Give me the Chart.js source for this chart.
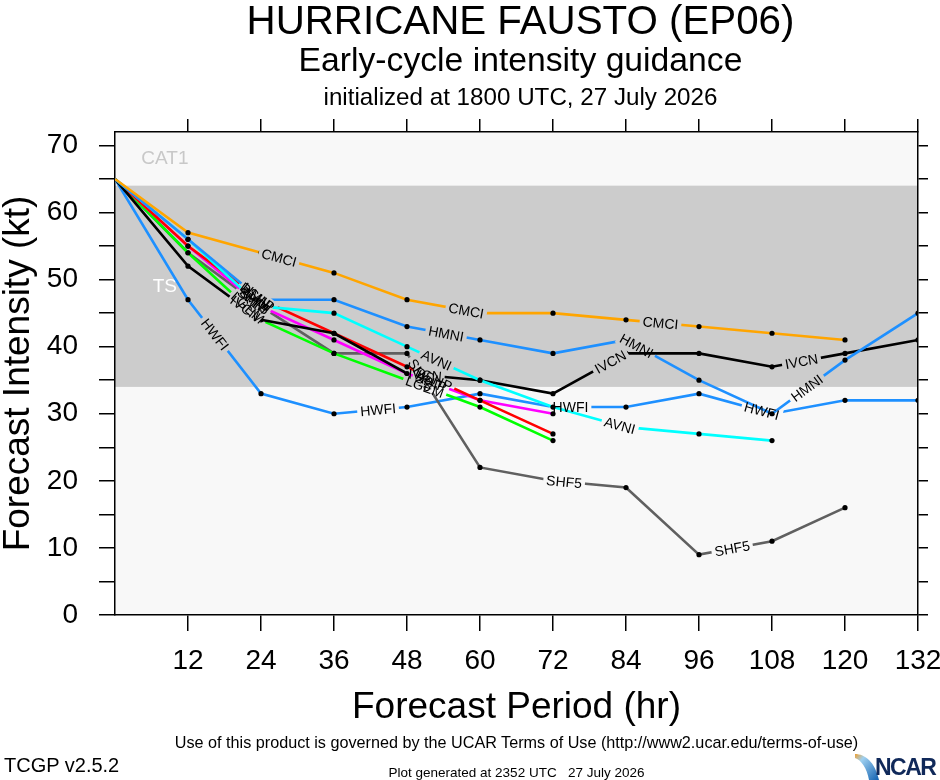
<!DOCTYPE html>
<html>
<head>
<meta charset="utf-8">
<title>Hurricane Fausto (EP06) - early-cycle intensity guidance</title>
<script src="https://cdn.jsdelivr.net/npm/chart.js@4.4.1/dist/chart.umd.min.js"></script>
<style>
    html, body { margin: 0; padding: 0; background: #fff; }
    #wrap { position: relative; width: 940px; height: 780px; overflow: hidden;
            font-family: "Liberation Sans", Arial, sans-serif; color: #000; }
    #grafico { position: absolute; left: 0; top: 0; }
    .txt { position: absolute; line-height: 1; white-space: pre; }
    .ctr { left: 115px; width: 803px; text-align: center; }
    .head { left: 119px; width: 803px; text-align: center; }
    #ncar { position: absolute; left: 855px; top: 752px; width: 85px; height: 28px; }
    #ncar svg { position: absolute; left: 0; top: 0; }
    #ncar span { position: absolute; left: 20px; top: 4px; font-size: 23px; font-weight: bold;
                 color: #10295a; letter-spacing: -1.5px; line-height: 1; }
</style>
</head>
<body>
<div id="wrap">
    <canvas id="grafico" width="940" height="780"></canvas>
    <div class="txt head" style="top:1px;font-size:40.3px">HURRICANE FAUSTO (EP06)</div>
    <div class="txt head" style="top:43px;font-size:33.7px">Early-cycle intensity guidance</div>
    <div class="txt head" style="top:85px;font-size:24.2px">initialized at 1800 UTC, 27 July 2026</div>
    <div class="txt ctr" style="top:734px;font-size:16.2px">Use of this product is governed by the UCAR Terms of Use (http://www2.ucar.edu/terms-of-use)</div>
    <div class="txt" style="left:4px;top:755px;font-size:20px">TCGP v2.5.2</div>
    <div class="txt ctr" style="top:766px;font-size:13.5px">Plot generated at 2352 UTC   27 July 2026</div>
    <div id="ncar">
        <svg width="30" height="28" viewBox="0 0 30 28">
            <defs>
                <linearGradient id="sw" x1="0" y1="0" x2="1" y2="1">
                    <stop offset="0" stop-color="#f0a030"/>
                    <stop offset="0.25" stop-color="#9fd0f0"/>
                    <stop offset="1" stop-color="#1060b0"/>
                </linearGradient>
            </defs>
            <path d="M0 2 C10 2 20 10 24 28 L14 28 C12 16 6 8 0 6 Z" fill="url(#sw)"/>
        </svg>
        <span>NCAR</span>
    </div>
</div>
<script>
// forecast hours and model intensities (kt)
const hours = [0, 12, 24, 36, 48, 60, 72, 84, 96, 108, 120, 132];

const cmci = [65, 57, 54, 51, 47, 45, 45, 44, 43, 42, 41];
const hmni = [65, 56, 47, 47, 43, 41, 39, 41, 35, 30, 38, 45];
const hwfi = [65, 47, 33, 30, 31, 33, 31, 31, 33, 30, 32, 32];
const avni = [65, 56, 46, 45, 40, 35, 31, 28, 27, 26];
const ivcn = [65, 52, 44, 42, 36, 35, 33, 39, 39, 37, 39, 41];
const shf5 = [65, 54, 46, 39, 39, 22, 20, 19, 9, 11, 16];
const dshp = [65, 55, 47, 42, 37, 32, 27];
const lgem = [65, 54, 44, 39, 35, 31, 26];
const ship = [65, 55, 46, 41, 36, 32, 30];

// tick marks
const xTicks = [12, 24, 36, 48, 60, 72, 84, 96, 108, 120, 132];
const yTicks = [0, 5, 10, 15, 20, 25, 30, 35, 40, 45, 50, 55, 60, 65, 70];

// intensity categories (kt)
const tsBottom = 34;
const tsTop = 64;

const FONT = '"Liberation Sans", Arial, sans-serif';
const LABEL_FONT = '14px ' + FONT;
const LABEL_FIRST = 185;   // arc length (px) to the first line label
const LABEL_STEP = 195;    // arc length (px) between line labels

Chart.defaults.font.family = FONT;
Chart.defaults.color = '#000';

const models = [
    { name: 'CMCI', values: cmci, color: '#ffa500' },
    { name: 'HMNI', values: hmni, color: '#1e90ff' },
    { name: 'AVNI', values: avni, color: '#00ffff' },
    { name: 'IVCN', values: ivcn, color: '#000000' },
    { name: 'DSHP', values: dshp, color: '#ff0000' },
    { name: 'SHIP', values: ship, color: '#ff00ff' },
    { name: 'LGEM', values: lgem, color: '#00ff00' },
    { name: 'SHF5', values: shf5, color: '#606060' },
    { name: 'HWFI', values: hwfi, color: '#1e90ff' },
];

// Fundo com as faixas de categoria
const bandas = {
    id: 'bandas',
    beforeDraw(chart) {
        const { ctx, chartArea: a, scales: { x, y } } = chart;
        const yTop = y.getPixelForValue(tsTop);
        const yBot = y.getPixelForValue(tsBottom);
        ctx.save();
        ctx.fillStyle = '#f8f8f8';
        ctx.fillRect(a.left, a.top, a.width, a.height);
        ctx.fillStyle = '#cccccc';
        ctx.fillRect(a.left, yTop, a.width, yBot - yTop);
        ctx.font = '19px ' + FONT;
        ctx.textAlign = 'center';
        ctx.textBaseline = 'middle';
        ctx.fillStyle = '#c8c8c8';
        ctx.fillText('CAT1', x.getPixelForValue(8.2), y.getPixelForValue((tsTop + y.max) / 2));
        ctx.fillStyle = '#ffffff';
        ctx.fillText('TS', x.getPixelForValue(8.2), y.getPixelForValue((tsTop + tsBottom) / 2));
        ctx.restore();
    }
};

// posições dos rótulos ao longo de cada linha
function labelSpots(points) {
    const spots = [];
    let next = LABEL_FIRST, run = 0;
    for (let i = 1; i < points.length; i++) {
        const p = points[i - 1], q = points[i];
        const dx = q.x - p.x, dy = q.y - p.y;
        const len = Math.hypot(dx, dy);
        while (run + len >= next) {
            const t = (next - run) / len;
            spots.push({ x: p.x + dx * t, y: p.y + dy * t, ang: Math.atan2(dy, dx) });
            next += LABEL_STEP;
        }
        run += len;
    }
    return spots;
}

function gapPath(ctx, s, w, h) {
    const c = Math.cos(s.ang), sn = Math.sin(s.ang);
    [[-w / 2, -h / 2], [w / 2, -h / 2], [w / 2, h / 2], [-w / 2, h / 2]].forEach(([u, v], k) => {
        const px = s.x + u * c - v * sn, py = s.y + u * sn + v * c;
        if (k) ctx.lineTo(px, py); else ctx.moveTo(px, py);
    });
    ctx.closePath();
}

const spotsByDataset = new Map();

// Rótulos dos modelos sobre as linhas (a linha é interrompida sob o texto)
const rotulos = {
    id: 'rotulos',
    beforeDatasetDraw(chart, args) {
        const ctx = chart.ctx;
        const name = chart.data.datasets[args.index].label;
        const spots = labelSpots(args.meta.data);
        spotsByDataset.set(args.index, spots);
        ctx.save();
        ctx.font = LABEL_FONT;
        const w = ctx.measureText(name).width + 6;
        ctx.beginPath();
        ctx.rect(0, 0, chart.width, chart.height);
        spots.forEach(s => gapPath(ctx, s, w, 15));
        ctx.clip('evenodd');
    },
    afterDatasetDraw(chart) {
        chart.ctx.restore();
    },
    afterDatasetsDraw(chart) {
        const ctx = chart.ctx;
        ctx.save();
        ctx.font = LABEL_FONT;
        ctx.fillStyle = '#000';
        ctx.textAlign = 'center';
        ctx.textBaseline = 'middle';
        spotsByDataset.forEach((spots, idx) => {
            const name = chart.data.datasets[idx].label;
            spots.forEach(s => {
                ctx.save();
                ctx.translate(s.x, s.y);
                ctx.rotate(s.ang);
                ctx.fillText(name, 0, 1);
                ctx.restore();
            });
        });
        ctx.restore();
    }
};

const tickGrid = len => ({
    drawOnChartArea: false, drawTicks: true, tickLength: len, color: '#000', lineWidth: 1.5
});
const frame = { display: true, color: '#000', width: 1.5 };

// tamanho fixo de cada eixo, sem folga extra para os rótulos
function fixSize(prop, size) {
    return s => {
        s[prop] = size;
        s.paddingLeft = s.paddingRight = s.paddingTop = s.paddingBottom = 0;
    };
}
const useTicks = list => s => { s.ticks = list.map(v => ({ value: v })); };

new Chart(document.getElementById('grafico'), {
    type: 'line',
    data: {
        datasets: models.map(m => ({
            label: m.name,
            data: m.values.map((v, i) => ({ x: hours[i], y: v })),
            borderColor: m.color,
            borderWidth: 2.6,
            pointRadius: c => c.dataIndex === 0 ? 0 : 2.6,
            pointHoverRadius: 0,
            pointBackgroundColor: '#000',
            pointBorderWidth: 0,
            tension: 0,
            fill: false,
        })),
    },
    options: {
        responsive: false,
        animation: false,
        events: [],
        layout: { padding: { top: 112, left: 0, right: 0, bottom: 0 } },
        scales: {
            x: {
                type: 'linear', position: 'bottom', min: 0, max: 132,
                afterBuildTicks: useTicks(xTicks),
                afterFit: fixSize('height', 165),
                ticks: { autoSkip: false, maxRotation: 0, padding: 13, font: { size: 28 } },
                grid: tickGrid(16),
                border: frame,
                title: { display: true, text: 'Forecast Period (hr)', font: { size: 37 }, padding: { top: 0, bottom: 50 } },
            },
            x2: {
                type: 'linear', axis: 'x', position: 'top', min: 0, max: 132,
                afterBuildTicks: useTicks(xTicks),
                afterFit: fixSize('height', 20),
                ticks: { autoSkip: false, callback: () => '' },
                grid: tickGrid(13),
                border: frame,
            },
            y: {
                type: 'linear', position: 'left', min: 0, max: 72,
                afterBuildTicks: useTicks(yTicks),
                afterFit: fixSize('width', 115),
                ticks: { autoSkip: false, padding: 21, font: { size: 28 },
                         callback: v => Math.round(v) % 10 === 0 ? Math.round(v) : '' },
                grid: tickGrid(16),
                border: frame,
                title: { display: true, text: 'Forecast Intensity (kt)', font: { size: 37, lineHeight: 1 }, padding: 0 },
            },
            y2: {
                type: 'linear', axis: 'y', position: 'right', min: 0, max: 72,
                afterBuildTicks: useTicks(yTicks),
                afterFit: fixSize('width', 22),
                ticks: { autoSkip: false, callback: () => '' },
                grid: tickGrid(10),
                border: frame,
            },
        },
        plugins: {
            legend: { display: false },
            tooltip: { enabled: false },
        },
    },
    plugins: [bandas, rotulos],
});
</script>
</body>
</html>
